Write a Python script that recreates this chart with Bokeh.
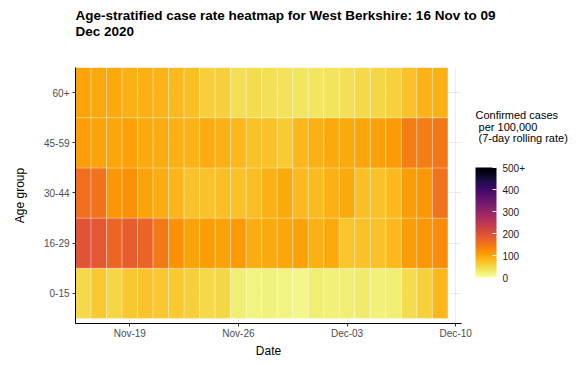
import pandas as pd
from bokeh.plotting import figure
from bokeh.models import (ColumnDataSource, LinearColorMapper, ColorBar, FixedTicker,
                          Range1d, DatetimeTickFormatter)
from bokeh.palettes import Inferno256
from bokeh.transform import transform
from bokeh.embed import file_html
from bokeh.resources import INLINE

# ---- data ----
start_date = "2020-11-16"
end_date = "2020-12-09"
age_groups = ["0-15", "16-29", "30-44", "45-59", "60+"]

rate_0_15 = [47, 64, 50, 66, 70, 66, 64, 57, 48, 50, 25, 18, 20, 18, 15, 24, 22, 24, 28, 22, 24, 44, 55, 82]
rate_16_29 = [195, 188, 170, 180, 172, 148, 120, 103, 108, 103, 112, 92, 95, 98, 102, 88, 95, 68, 72, 72, 80, 108, 115, 125]
rate_30_44 = [160, 155, 115, 120, 100, 92, 83, 72, 72, 74, 72, 76, 86, 95, 80, 78, 88, 95, 74, 72, 80, 108, 115, 155]
rate_45_59 = [107, 100, 98, 105, 95, 92, 88, 85, 92, 88, 82, 72, 72, 62, 82, 86, 95, 95, 98, 102, 110, 142, 142, 150]
rate_60_plus = [100, 97, 95, 88, 88, 85, 80, 74, 58, 58, 40, 43, 40, 38, 35, 35, 37, 40, 47, 50, 55, 72, 85, 88]

x_tick_dates = ["2020-11-19", "2020-11-26", "2020-12-03", "2020-12-10"]
legend_ticks = [0, 100, 200, 300, 400, 500]
chart_title = "Age-stratified case rate heatmap for West Berkshire: 16 Nov to 09\nDec 2020"
legend_title = "Confirmed cases\n\u00a0per 100,000\n\u00a0(7-day rolling rate)"

# ---- build table ----
dates = pd.date_range(start_date, end_date, freq="D")
series = [rate_0_15, rate_16_29, rate_30_44, rate_45_59, rate_60_plus]
xs, ys, vals = [], [], []
for gi, s in enumerate(series):
    for d, v in zip(dates, s):
        xs.append(d)
        ys.append(gi)
        vals.append(v)
src = ColumnDataSource(dict(x=xs, y=ys, v=vals))

FONT = "Liberation Sans"
day_ms = 24 * 3600 * 1000
W, H = 581, 365
FL, FB = 75, 323  # frame left / bottom in page pixels

p = figure(width=W, height=H, output_backend="svg", toolbar_location=None,
           x_axis_type="datetime",
           x_range=Range1d(pd.Timestamp("2020-11-15 12:00"), pd.Timestamp("2020-12-10 09:00")),
           y_range=Range1d(-0.6, 4.5),
           min_border_left=FL, min_border_right=120, min_border_top=67, min_border_bottom=H - FB)
p.outline_line_color = None
p.background_fill_color = "white"

mapper = LinearColorMapper(palette=list(reversed(Inferno256)), low=0, high=500)

p.rect(x="x", y="y", width=day_ms, height=1, source=src,
       fill_color=transform("v", mapper), line_color="white", line_alpha=0.3, line_width=1)

# axes
xa = p.xaxis[0]
xa.ticker = FixedTicker(ticks=[pd.Timestamp(t).value / 1e6 for t in x_tick_dates])
xa.formatter = DatetimeTickFormatter(days="%b-%d", months="%b-%d", years="%b-%d")
ya = p.yaxis[0]
ya.ticker = FixedTicker(ticks=list(range(len(age_groups))))
ya.major_label_overrides = {i: g for i, g in enumerate(age_groups)}

for ax in (xa, ya):
    ax.axis_line_color = "black"
    ax.axis_line_width = 1
    ax.major_tick_line_color = "#333333"
    ax.major_tick_out = 3
    ax.major_tick_in = 0
    ax.minor_tick_line_color = None
    ax.major_label_text_font = FONT
    ax.major_label_text_font_size = "10px"
    ax.major_label_text_color = "#4D4D4D"
    ax.axis_label_text_font = FONT
    ax.axis_label_text_font_size = "12px"
    ax.axis_label_text_font_style = "normal"
    ax.axis_label_text_color = "black"

xa.axis_label = "Date"
xa.major_label_standoff = 1
xa.axis_label_standoff = 2
ya.axis_label = "Age group"
ya.major_label_standoff = 3
ya.axis_label_standoff = 14

p.xgrid.grid_line_color = "#EBEBEB"
p.ygrid.grid_line_color = "#EBEBEB"

# the real colour legend
cb = ColorBar(color_mapper=mapper, ticker=FixedTicker(ticks=legend_ticks),
              major_label_overrides={500: "500+"},
              width=21, height=110,
              major_label_text_font=FONT, major_label_text_font_size="10px",
              major_label_text_color="#1a1a1a", label_standoff=6,
              major_tick_line_color="white", major_tick_in=4, major_tick_out=0,
              bar_line_color=None, border_line_color=None, background_fill_color=None,
              padding=0, location=(400, 46))
p.add_layout(cb, "center")


def text_block(text, x, y, size, bold, line_height):
    """A horizontal colour bar with an invisible scale, used only to carry a
    horizontal multi-line title outside the plot frame (it is not clipped)."""
    return ColorBar(color_mapper=mapper, ticker=FixedTicker(ticks=[]),
                    orientation="horizontal", width=60, height=1, scale_alpha=0,
                    title=text, title_text_font=FONT, title_text_font_size=size,
                    title_text_font_style="bold" if bold else "normal",
                    title_text_color="black", title_text_line_height=line_height,
                    title_standoff=0, major_tick_line_color=None, minor_tick_line_color=None,
                    major_label_text_alpha=0, bar_line_color=None, border_line_color=None,
                    background_fill_color=None, padding=0, location=(x, y))


p.add_layout(text_block(chart_title, 0, 284, "13.5px", True, 1.05), "center")
p.add_layout(text_block(legend_title, 400, 178, "11px", False, 0.97), "center")

open("out.html", "w").write(file_html(p, INLINE))
